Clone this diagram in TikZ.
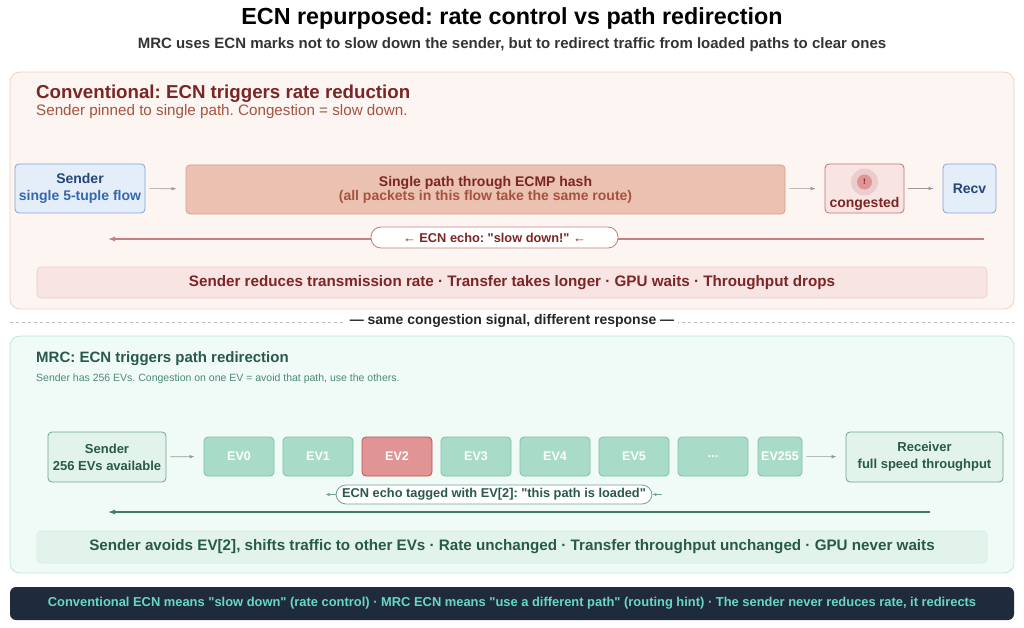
\documentclass[tikz,border=0pt]{standalone}
\usepackage{fontspec}
\setmainfont{Liberation Sans}[Ligatures=TeXOff]
\frenchspacing
\usetikzlibrary{arrows.meta}

\definecolor{convbg}{HTML}{FCF5F2}
\definecolor{convline}{HTML}{F4CDBD}
\definecolor{convdark}{HTML}{7B2525}
\definecolor{convsub}{HTML}{A6533E}
\definecolor{bluefill}{HTML}{E4EEF9}
\definecolor{blueline}{HTML}{7EA6D8}
\definecolor{bluedark}{HTML}{24477A}
\definecolor{bluetext}{HTML}{3567B0}
\definecolor{pathfill}{HTML}{EBC1B1}
\definecolor{pathline}{HTML}{DC9C84}
\definecolor{congfill}{HTML}{F9E4E4}
\definecolor{congline}{HTML}{C27070}
\definecolor{echored}{HTML}{C47F7F}
\definecolor{mrcbg}{HTML}{F0FAF6}
\definecolor{mrcline}{HTML}{BDE7D8}
\definecolor{mrcdark}{HTML}{275A48}
\definecolor{mrcsub}{HTML}{4A8C72}
\definecolor{mrcfill}{HTML}{E2F3EB}
\definecolor{mrcnode}{HTML}{6FA58D}
\definecolor{evfill}{HTML}{A9DCC8}
\definecolor{evline}{HTML}{80C0A8}
\definecolor{hotfill}{HTML}{E09494}
\definecolor{hotline}{HTML}{C24F4F}
\definecolor{echogreen}{HTML}{3D7C66}
\definecolor{footbg}{HTML}{1F2A3C}
\definecolor{foottext}{HTML}{67D9C2}

\newcommand{\evmore}{...}

\begin{document}
\begin{tikzpicture}[x=1pt, y=-1pt,
        panel/.style={rectangle, rounded corners=10pt, line width=0.8pt},
        box/.style={rectangle, rounded corners=4pt, align=center, inner sep=0pt, line width=0.8pt, font=\bfseries\fontsize{14}{17}\selectfont},
        mbox/.style={box, draw=mrcnode, fill=mrcfill, text=mrcdark, minimum height=50pt, font=\bfseries\fontsize{13}{17}\selectfont},
        ev/.style={box, draw=evline, fill=evfill, text=white, minimum width=70pt, minimum height=39pt, font=\bfseries\fontsize{12.5}{14}\selectfont},
        evhot/.style={ev, draw=hotline, fill=hotfill},
        flow/.style={draw=gray!80, line width=0.6pt, -{Latex[length=5pt,width=3.5pt]}, shorten <=4pt, shorten >=9pt},
        pill/.style={rectangle, rounded corners=10pt, fill=white, line width=0.8pt, inner sep=0pt, font=\bfseries\fontsize{12.8}{14}\selectfont},
        note/.style={rectangle, rounded corners=4pt, line width=0.6pt, minimum width=950pt, font=\bfseries\fontsize{15.2}{18}\selectfont}
    ]
    \useasboundingbox (0,0) rectangle (1024,628);

    % heading
    \node[font=\bfseries\fontsize{23.3}{27}\selectfont] (title) at (512,18) {ECN repurposed: rate control vs path redirection};
    \node[font=\bfseries\fontsize{15}{18}\selectfont, text=black!80] (subtitle) at (512,45) {MRC uses ECN marks not to slow down the sender, but to redirect traffic from loaded paths to clear ones};

    % conventional panel
    \node[panel, draw=convline, fill=convbg, minimum width=1004pt, minimum height=237pt] (conv) at (512,190.5) {};
    \node[anchor=west, inner sep=0pt, text=convdark, font=\bfseries\fontsize{18.7}{22}\selectfont] (convhead) at (36,94) {Conventional: ECN triggers rate reduction};
    \node[anchor=west, inner sep=0pt, text=convsub, font=\fontsize{15.2}{18}\selectfont] (convsub) at (36,112) {Sender pinned to single path. Congestion = slow down.};

    \node[box, draw=blueline, fill=bluefill, minimum width=130pt, minimum height=49pt] (csend) at (80,188.5)
        {\textcolor{bluedark}{Sender}\\\textcolor{bluetext}{single 5-tuple flow}};
    \node[box, draw=pathline, fill=pathfill, minimum width=599pt, minimum height=49pt] (cpath) at (485.5,189.5)
        {\textcolor{convdark}{Single path through ECMP hash}\\[-3pt]\textcolor{convsub}{(all packets in this flow take the same route)}};
    \node[box, draw=congline, fill=congfill, minimum width=79pt, minimum height=49pt] (ccong) at (864.5,188.5) {};
    \node[circle, fill=congline!35, minimum size=27pt, inner sep=0pt] (halo) at (864.5,182) {};
    \node[circle, fill=hotfill, minimum size=15pt, inner sep=0pt, text=convdark, font=\bfseries\fontsize{8}{9}\selectfont] (alarm) at (halo) {!};
    \node[text=convdark, font=\bfseries\fontsize{14}{16}\selectfont] (conglabel) at (864.5,203.5) {congested};
    \node[box, draw=blueline, fill=bluefill, text=bluedark, minimum width=53pt, minimum height=49pt] (crecv) at (969.5,188.5) {Recv};

    \draw[flow] (csend) -- (cpath);
    \draw[flow] (cpath) -- (ccong);
    \draw[flow] (ccong) -- (crecv);

    \coordinate (cechoR) at (984,239);
    \coordinate (cechoL) at (108,239);
    \draw[echored, line width=1.3pt, -{Latex[length=7pt,width=5pt]}] (cechoR) -- (cechoL);
    \node[pill, draw=echored, text=convdark, minimum width=247pt, minimum height=21pt] (cecho) at (494.5,237.5) {← ECN echo: "slow down!" ←};

    \node[note, draw=congline!35, fill=congfill, text=convdark, minimum height=31pt] (cnote) at (512,282.5)
        {Sender reduces transmission rate · Transfer takes longer · GPU waits · Throughput drops};

    % separator
    \coordinate (sepL) at (10,322);
    \coordinate (sepR) at (1014,322);
    \draw[black!25, dashed, line width=0.6pt] (sepL) -- (sepR);
    \node[fill=white, inner xsep=4pt, font=\bfseries\fontsize{14}{16}\selectfont, text=black!85] (sep) at (512,321)
        {— same congestion signal, different response —};

    % MRC panel
    \node[panel, draw=mrcline, fill=mrcbg, minimum width=1004pt, minimum height=237pt] (mrc) at (512,454.5) {};
    \node[anchor=west, inner sep=0pt, text=mrcdark, font=\bfseries\fontsize{15}{18}\selectfont] (mrchead) at (36,359) {MRC: ECN triggers path redirection};
    \node[anchor=west, inner sep=0pt, text=mrcsub, font=\fontsize{10.5}{12}\selectfont] (mrcsub) at (36,378.5) {Sender has 256 EVs. Congestion on one EV = avoid that path, use the others.};

    \node[mbox, minimum width=118pt] (msend) at (107,457) {Sender\\256 EVs available};
    \foreach \lab/\sty [count=\i from 0] in {EV0/ev, EV1/ev, EV2/evhot, EV3/ev, EV4/ev, EV5/ev, \evmore/ev}
        \node[\sty] (ev\i) at (239+79*\i,456.5) {\lab};
    \node[ev, minimum width=44pt] (ev255) at (780,456.5) {EV255};
    \node[mbox, minimum width=157pt] (mrecv) at (924.5,457) {Receiver\\full speed throughput};

    \draw[flow] (msend) -- (ev0);
    \draw[flow] (ev255) -- (mrecv);

    \node[pill, draw=mrcnode, text=mrcdark, minimum width=316pt, minimum height=19pt] (mecho) at (494,494.5)
        {ECN echo tagged with EV[2]: "this path is loaded"};
    \draw[mrcnode, line width=0.8pt, -{Latex[length=4pt,width=3.5pt]}] (mecho.west) -- ++(-10,0);
    \draw[mrcnode, line width=0.8pt, -{Latex[length=4pt,width=3.5pt]}] ([xshift=10pt]mecho.east) -- (mecho.east);

    \coordinate (mechoR) at (930,512);
    \coordinate (mechoL) at (108,512);
    \draw[echogreen, line width=1.3pt, -{Latex[length=7pt,width=5pt]}] (mechoR) -- (mechoL);

    \node[note, draw=mrcline!70, fill=mrcfill, text=mrcdark, minimum height=32pt] (mnote) at (512,547)
        {Sender avoids EV[2], shifts traffic to other EVs · Rate unchanged · Transfer throughput unchanged · GPU never waits};

    % footer
    \node[rectangle, rounded corners=6pt, fill=footbg, text=foottext, minimum width=1004pt, minimum height=33pt, font=\bfseries\fontsize{12.9}{15}\selectfont] (foot) at (512,603.5)
        {Conventional ECN means "slow down" (rate control) · MRC ECN means "use a different path" (routing hint) · The sender never reduces rate, it redirects};
\end{tikzpicture}
\end{document}
